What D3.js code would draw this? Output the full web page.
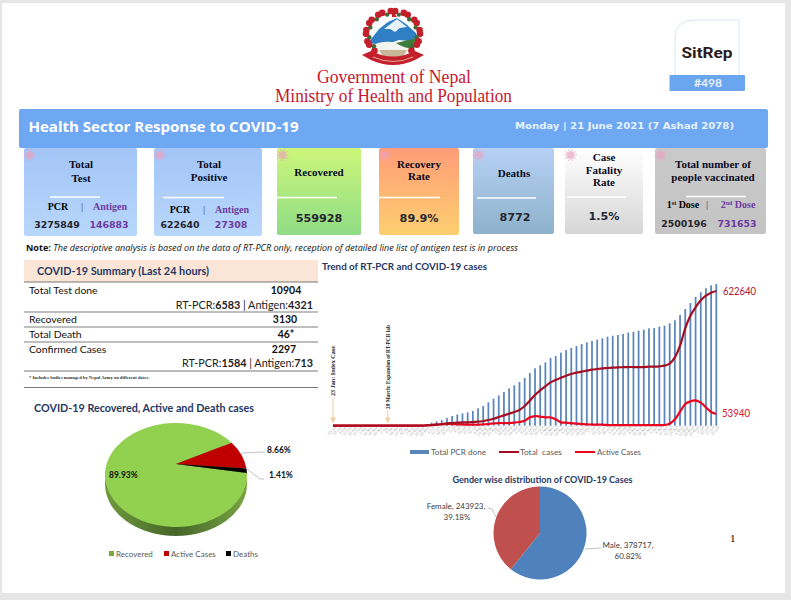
<!DOCTYPE html>
<html>
<head>
<meta charset="utf-8">
<script src="https://cdnjs.cloudflare.com/ajax/libs/d3/7.8.5/d3.min.js"></script>
<style>
  html, body { margin: 0; padding: 0; background: #e6e6e6; overflow: hidden; }
  svg { display: block; }
</style>
</head>
<body>
<svg id="page" width="791" height="600"></svg>
<script>
// weekly tick labels, Jan 2020 to Jun 2021
const weeks = ["23-Jan","30-Jan","6-Feb","13-Feb","20-Feb","27-Feb","5-Mar","12-Mar","19-Mar","26-Mar","2-Apr","9-Apr","16-Apr","23-Apr","30-Apr","7-May","14-May","21-May","28-May","4-Jun","11-Jun","18-Jun","25-Jun","2-Jul","9-Jul","16-Jul","23-Jul","30-Jul","6-Aug","13-Aug","20-Aug","27-Aug","3-Sep","10-Sep","17-Sep","24-Sep","1-Oct","8-Oct","15-Oct","22-Oct","29-Oct","5-Nov","12-Nov","19-Nov","26-Nov","3-Dec","10-Dec","17-Dec","24-Dec","31-Dec","7-Jan","14-Jan","21-Jan","28-Jan","4-Feb","11-Feb","18-Feb","25-Feb","4-Mar","11-Mar","18-Mar","25-Mar","1-Apr","8-Apr","15-Apr","22-Apr","29-Apr","6-May","13-May","20-May","27-May","3-Jun","10-Jun","17-Jun","21-Jun"];
const totalPcr = [0,0,0,0,0,0,0,0,0,0,0,0,0,0,0,0,0,0,31000,69000,100000,131000,177000,224000,262000,285000,308000,339000,401000,455000,540000,624000,701000,779000,863000,933000,1010000,1102000,1218000,1326000,1395000,1465000,1565000,1611000,1688000,1750000,1796000,1842000,1888000,1927000,1958000,1989000,2020000,2058000,2081000,2097000,2120000,2151000,2166000,2197000,2220000,2251000,2258000,2289000,2312000,2366000,2436000,2559000,2698000,2837000,2975000,3083000,3176000,3245000,3275849];
const totalCases = [1,1,1,1,1,1,1,1,1,1,1,1,1,1,1,1,1,1,1500,3100,4600,7700,10800,12300,13900,15400,15400,17000,18500,21600,26200,32400,40100,47800,55500,63200,72400,90900,115600,141800,163300,181800,200300,211100,221900,231200,238900,245000,249600,254300,258900,262000,265100,266600,268100,269700,270400,271200,271200,271200,271200,272800,272800,274300,277400,286600,315900,369800,450000,508500,547100,579400,601000,614900,622640];
const activeCases = [1,1,1,1,1,1,1,1,1,1,1,1,1,1,1,1,1,1,1500,3100,4600,6200,7700,7700,6200,6200,4600,4600,4600,6200,7700,10800,12300,12300,12300,13900,17000,23100,38500,44700,41600,38500,38500,29300,15400,13900,12300,9200,7700,6200,5400,4600,4600,3100,3100,3100,3100,3100,3100,3100,3100,3100,3100,3100,3100,9200,29300,64700,100200,112500,117100,106300,84800,63200,53940];

const summaryRows = ["Total Test done", "Recovered", "Total Death", "Confirmed Cases"];
const summaryValues = ["10904", "3130", "46*", "2297"];

const outcomeLabels = ["Recovered", "Active Cases", "Deaths"];
const outcomeShares = [89.93, 8.66, 1.41];
const outcomeColors = ["#92d050", "#c00000", "#000000"];

const genderLabels = ["Male", "Female"];
const genderCounts = [378717, 243923];
const genderShares = ["60.82%", "39.18%"];
const genderColors = ["#4f81bd", "#c0504d"];

const svg = d3.select("#page");
const serif = "'Liberation Serif', serif";
const sans = "Lato, 'Open Sans', sans-serif";
const heavy = "'DejaVu Sans', sans-serif";
const navy = "#1f3864";
const purple = "#6f3aa0";
const defs = svg.append("defs");

function txt(x, y, s, o = {}) {
  const t = (o.g || svg).append("text")
    .attr("x", x).attr("y", y).text(s)
    .attr("font-family", o.font || sans)
    .attr("font-size", o.size || 9)
    .attr("font-weight", o.weight || "normal")
    .attr("font-style", o.italic ? "italic" : "normal")
    .attr("fill", o.fill || "#000")
    .attr("text-anchor", o.anchor || "start");
  if (o.len) t.attr("textLength", o.len).attr("lengthAdjust", "spacingAndGlyphs");
  return t;
}
function rule(x1, x2, y, color, w) {
  svg.append("line").attr("x1", x1).attr("x2", x2).attr("y1", y).attr("y2", y)
    .attr("stroke", color).attr("stroke-width", w);
}

// page sheet
svg.append("rect").attr("x", 2).attr("y", 3).attr("width", 783).attr("height", 590).attr("fill", "#fff");

// ---- header ----
const emblem = svg.append("g").attr("transform", "translate(393,37)");
emblem.append("path").attr("d", "M-25,6 L-14,-8 L-5,-15 L4,-19 L13,-13 L23,-4 L25,5 L6,3 L-8,8 Z").attr("fill", "#2f7fc4");
emblem.append("path").attr("d", "M-9,-8 L4,-18 L14,-10 L7,-9 L2,-5 L-3,-8 Z").attr("fill", "#e8f2fa");
emblem.append("path").attr("d", "M-23,9 Q-5,1 8,8 L24,5 L20,17 L-18,18 Z").attr("fill", "#f2f4ee");
emblem.append("path").attr("d", "M3,6 L24,1 L21,12 Q10,11 3,6 Z").attr("fill", "#3f7d3a");
emblem.append("path").attr("d", "M-14,13 L14,13 L10,20 L-10,20 Z").attr("fill", "#c9b79a");
d3.range(30).forEach(i => {
  const a = Math.PI * (0.74 + i * 1.52 / 29);
  const green = i % 3 === 1;
  emblem.append("circle").attr("cx", (green ? 24 : 27) * Math.cos(a)).attr("cy", -3 + (green ? 20 : 23) * Math.sin(a))
    .attr("r", green ? 2.2 : 3.3).attr("fill", green ? "#3c6b35" : "#c4202c");
});
emblem.append("path").attr("d", "M-1,-27 L-1,-20 L4,-20 L1,-24 L4,-24 Z").attr("fill", "#c4202c");
emblem.append("path").attr("d", "M-31,18 L-22,14 Q0,25 22,14 L31,18 L22,23 Q0,33 -22,23 Z").attr("fill", "#c4202c");
emblem.append("path").attr("d", "M-20,20 Q0,29 20,20").attr("fill", "none").attr("stroke", "#f0c8b0").attr("stroke-width", 0.8);
txt(394, 83, "Government of Nepal", { font: serif, size: 18, fill: "#c8162e", anchor: "middle", len: 154 });
txt(393.5, 101.5, "Ministry of Health and Population", { font: serif, size: 18, fill: "#c8162e", anchor: "middle", len: 237 });

svg.append("path").attr("d", "M675,75 L675,38 Q675,20 695,20 L739,20 L739,75").attr("fill", "#fff").attr("stroke", "#d5e6ee");
txt(707, 57.5, "SitRep", { font: "Roboto, sans-serif", size: 15, weight: "bold", fill: "#2a1a20", anchor: "middle", len: 51 });
svg.append("rect").attr("x", 669.5).attr("y", 75).attr("width", 75.5).attr("height", 16).attr("rx", 1).attr("fill", "#6aa6f0");
txt(708, 87, "#498", { font: sans, size: 12, weight: "bold", fill: "#e8f0fa", anchor: "middle" });

// ---- banner ----
svg.append("rect").attr("x", 19).attr("y", 109).attr("width", 749).attr("height", 39).attr("rx", 2).attr("fill", "#6fa8f2");
txt(28.5, 132, "Health Sector Response to COVID-19", { font: "'Open Sans', sans-serif", size: 14.5, weight: "bold", fill: "#fff", len: 270 });
txt(515, 129, "Monday | 21 June 2021 (7 Ashad 2078)", { font: heavy, size: 9, weight: "bold", fill: "#e6f2ff", len: 219 });

// ---- stat cards ----
const cardBoxes = [[24, 137, 236, "#a3c5f7", "#b8d7fc"], [154, 262, 236, "#a3c5f7", "#b8d7fc"], [277, 361, 235, "#cdf67a", "#8fdc86"], [379, 459, 235, "#ff9c78", "#fdcf70"], [473, 554, 234, "#b6d1f6", "#8eb2cb"], [565, 643, 234, "#ffffff", "#d6d6d6"], [655, 766, 234, "#c9c9c9", "#c4c4c4"]];
const sepLines = [[50, 100, 197], [163, 224, 197.5], [277, 337, 197.5], [379, 440, 197.5], [477, 536, 198], [567, 626, 197], [686, 746, 196.5]];
cardBoxes.forEach((c, i) => {
  const g = defs.append("linearGradient").attr("id", "card" + i).attr("x1", 0).attr("y1", 0).attr("x2", 0).attr("y2", 1);
  g.append("stop").attr("offset", 0).attr("stop-color", c[3]);
  g.append("stop").attr("offset", 1).attr("stop-color", c[4]);
  svg.append("rect").attr("x", c[0]).attr("y", 148).attr("width", c[1] - c[0]).attr("height", c[2] - 148).attr("rx", 2).attr("fill", `url(#card${i})`);
  // little virus mark in the corner
  const v = svg.append("g").attr("transform", `translate(${c[0] + 5.5},155)`).attr("opacity", 0.7);
  v.append("circle").attr("r", 3.6).attr("fill", "#eda3c0");
  d3.range(10).forEach(k => {
    const a = k * Math.PI / 5;
    v.append("line").attr("x2", 6.2 * Math.cos(a)).attr("y2", 6.2 * Math.sin(a)).attr("stroke", "#eda3c0").attr("stroke-width", 1.1);
  });
  const s = sepLines[i];
  rule(s[0], s[1], s[2], "#fff", 1.4);
});

const head = { font: serif, size: 11, weight: "bold", anchor: "middle", fill: "#0a0a1e" };
const num = { font: heavy, size: 9.4, weight: "bold", anchor: "middle", fill: "#26262e" };
const numP = { ...num, fill: purple };
const big = { ...num, size: 11.2 };
const sub = { font: serif, size: 10, weight: "bold", anchor: "middle" };
const subP = { ...sub, fill: purple };
const bar = { font: serif, size: 10, weight: "bold", anchor: "middle", fill: "#5b6c7c" };

txt(81, 168, "Total", head); txt(81, 182, "Test", head);
txt(58, 210, "PCR", sub); txt(82, 210, "|", bar); txt(110, 210, "Antigen", subP);
txt(57, 228, "3275849", num); txt(109, 228, "146883", numP);

txt(209, 168, "Total", head); txt(209, 181, "Positive", head);
txt(180, 213, "PCR", sub); txt(204, 213, "|", bar); txt(232, 213, "Antigen", subP);
txt(180, 228, "622640", num); txt(231, 228, "27308", numP);

txt(319, 176, "Recovered", head); txt(319, 222, "559928", big);
txt(419, 168, "Recovery", head); txt(419, 180, "Rate", head); txt(419, 222, "89.9%", big);
txt(514, 177, "Deaths", head); txt(515, 221, "8772", big);
txt(604, 161, "Case", head); txt(604, 174, "Fatality", head); txt(604, 186, "Rate", head); txt(604, 220, "1.5%", big);

txt(713, 168, "Total number of", head); txt(713, 181, "people vaccinated", head);
const dose1 = txt(683, 208, "1", sub);
dose1.append("tspan").attr("dy", -3).attr("font-size", 6).text("st");
dose1.append("tspan").attr("dy", 3).text(" Dose");
txt(707, 208, "|", bar);
const dose2 = txt(738, 208, "2", subP);
dose2.append("tspan").attr("dy", -3).attr("font-size", 6).text("nd");
dose2.append("tspan").attr("dy", 3).text(" Dose");
txt(684, 227, "2500196", num); txt(737, 227, "731653", numP);

const note = txt(26, 250.5, "Note:", { font: "'Open Sans', sans-serif", size: 8.2, weight: "bold", fill: "#111", len: 492 });
note.append("tspan").attr("font-weight", "normal").attr("font-style", "italic")
  .text(" The descriptive analysis is based on the data of RT-PCR only, reception of detailed line list of antigen test is in process");

// ---- 24 hour summary ----
svg.append("rect").attr("x", 24).attr("y", 260).attr("width", 294).attr("height", 22).attr("fill", "#fbe5d6");
txt(37, 275, "COVID-19 Summary (Last 24 hours)", { size: 11, weight: "bold", fill: navy, len: 172 });
rule(24, 318, 282, "#555", 0.8);
rule(24, 318, 312, "#aaa", 1.4);
rule(24, 318, 327, "#aaa", 1.4);
rule(24, 318, 342, "#aaa", 1.4);
rule(24, 318, 371, "#555", 0.8);
rule(24, 318, 387.5, "#555", 0.8);
const rowY = [294, 323, 338, 353];
const rowX = [286, 285, 286, 284];
summaryRows.forEach((r, i) => {
  txt(29, rowY[i], r, { size: 10.4, fill: "#111" });
  txt(rowX[i], rowY[i], summaryValues[i], { size: 10.5, weight: "bold", anchor: "middle", fill: "#111" });
});
function split(y, a, b) {
  const t = txt(313, y, "RT-PCR:", { size: 10.8, anchor: "end", fill: "#222" });
  t.append("tspan").attr("font-weight", "bold").text(a);
  t.append("tspan").text(" | Antigen:");
  t.append("tspan").attr("font-weight", "bold").text(b);
}
split(309, "6583", "4321");
split(367, "1584", "713");
txt(29, 378.5, "* Includes bodies managed by Nepal Army on different dates.", { font: serif, size: 4.6, weight: "bold", fill: "#333" });

// ---- outcome pie (tilted) ----
txt(34, 412, "COVID-19 Recovered, Active and Death cases", { size: 10.5, weight: "bold", fill: navy, len: 220 });
const pcx = 176, pcy = 475, prx = 71, pry = 52, depth = 9;
const rimGrad = defs.append("linearGradient").attr("id", "rim").attr("x1", 0).attr("x2", 1).attr("y1", 0).attr("y2", 0);
rimGrad.append("stop").attr("offset", 0).attr("stop-color", "#6f9a3c");
rimGrad.append("stop").attr("offset", 0.5).attr("stop-color", "#45662a");
rimGrad.append("stop").attr("offset", 1).attr("stop-color", "#79a443");
svg.append("ellipse").attr("cx", pcx).attr("cy", pcy + depth).attr("rx", prx).attr("ry", pry).attr("fill", "url(#rim)");
const outcomeArcs = d3.pie().sort(null).startAngle(87.8 * Math.PI / 180).endAngle((87.8 + 360) * Math.PI / 180)(outcomeShares);
const rimPt = a => [pcx + prx * Math.sin(a), pcy - pry * Math.cos(a)];
outcomeArcs.forEach((d, i) => {
  const p0 = rimPt(d.startAngle), p1 = rimPt(d.endAngle);
  const large = d.endAngle - d.startAngle > Math.PI ? 1 : 0;
  // excel leaves the apex a bit above the middle of the ellipse
  svg.append("path")
    .attr("d", `M${pcx},${pcy - 11} L${p0[0]},${p0[1]} A${prx},${pry} 0 ${large} 1 ${p1[0]},${p1[1]} Z`)
    .attr("fill", outcomeColors[i]);
});
const pieLabel = { size: 8.5, weight: "bold", fill: "#111" };
txt(109, 478, outcomeShares[0].toFixed(2) + "%", pieLabel);
txt(267, 453, outcomeShares[1].toFixed(2) + "%", pieLabel);
txt(269, 478, outcomeShares[2].toFixed(2) + "%", pieLabel);
const leader = d3.line();
svg.append("path").attr("d", leader([[242, 453], [265, 452]])).attr("fill", "none").attr("stroke", "#a6a6a6").attr("stroke-width", 0.7);
svg.append("path").attr("d", leader([[247, 469], [260, 479], [264, 479]])).attr("fill", "none").attr("stroke", "#a6a6a6").attr("stroke-width", 0.7);
const legX = [109, 164, 226];
outcomeLabels.forEach((l, i) => {
  svg.append("rect").attr("x", legX[i]).attr("y", 551).attr("width", 5).attr("height", 5).attr("fill", outcomeColors[i] === "#92d050" ? "#7aa83f" : outcomeColors[i]);
  txt(legX[i] + 7, 557, l, { size: 8, fill: "#595959" });
});

// ---- trend chart ----
txt(322, 270, "Trend of RT-PCR and COVID-19 cases", { size: 9.5, weight: "bold", fill: navy, len: 165 });
const x = d3.scaleBand().domain(weeks).range([330.4, 718.9]).paddingInner(0.66).paddingOuter(0.33);
const yBars = d3.scaleLinear().domain([0, 3275849]).range([425.7, 284]);
const yLines = d3.scaleLinear().domain([0, 655000]).range([425.7, 284]);

const xAxis = svg.append("g").attr("transform", "translate(0,426)")
  .call(d3.axisBottom(x).tickSize(0).tickPadding(2));
xAxis.select(".domain").attr("stroke", "#d9d9d9").attr("stroke-width", 0.5);
xAxis.selectAll("text").attr("font-size", 3.5).attr("font-family", sans).attr("fill", "#a8a8a8")
  .attr("text-anchor", "end").attr("dx", "0.3em").attr("dy", "0.5em").attr("transform", "rotate(-45)");

svg.append("g").selectAll("rect").data(totalPcr).join("rect")
  .attr("x", (d, i) => x(weeks[i])).attr("width", x.bandwidth())
  .attr("y", d => yBars(d)).attr("height", d => yBars(0) - yBars(d))
  .attr("fill", "#5b86bb");

const xMid = (d, i) => x(weeks[i]) + x.bandwidth() / 2;
const trend = d3.line().x(xMid).y(d => yLines(d)).curve(d3.curveCatmullRom.alpha(0.5));
svg.append("path").datum(activeCases).attr("d", trend).attr("fill", "none").attr("stroke", "#e8061f").attr("stroke-width", 2.2);
svg.append("path").datum(totalCases).attr("d", trend).attr("fill", "none").attr("stroke", "#a50e20").attr("stroke-width", 2.2);

// event markers
const arrowColor = "#f3cfa4";
[[weeks[0], 398, "23 Jan: Index Case", 396, 50, 0], [weeks[11], 410, "29 March: Expansion of RT-PCR lab", 409, 84, 2.2]].forEach(m => {
  const ax = x(m[0]) + x.bandwidth() / 2 - m[5];
  svg.append("line").attr("x1", ax).attr("x2", ax).attr("y1", m[1]).attr("y2", 420).attr("stroke", arrowColor).attr("stroke-width", 1);
  svg.append("path").attr("d", `M${ax - 2.8},417.5 L${ax + 2.8},417.5 L${ax},423.5 Z`).attr("fill", arrowColor);
  svg.append("text").attr("transform", `translate(${ax + 2},${m[3]}) rotate(-90)`)
    .text(m[2]).attr("font-family", serif).attr("font-size", 6.4).attr("font-weight", "bold").attr("fill", "#222")
    .attr("textLength", m[4]).attr("lengthAdjust", "spacingAndGlyphs");
});

txt(723, 295, totalCases[74], { size: 10.5, fill: "#b5122b", len: 33 });
txt(722, 417, activeCases[74], { size: 10.5, fill: "#e3132a", len: 28 });

svg.append("rect").attr("x", 410).attr("y", 450).attr("width", 19).attr("height", 4).attr("fill", "#5b86bb");
txt(431, 455, "Total PCR done", { size: 8, fill: "#595959", len: 55 });
rule(499, 519, 452, "#a50e20", 2);
txt(520, 455, "Total  cases", { size: 8, fill: "#595959", len: 42 }).attr("xml:space", "preserve");
rule(575, 595, 452, "#e8061f", 2);
txt(597, 455, "Active Cases", { size: 8, fill: "#595959", len: 44 });

// ---- gender pie ----
txt(542.5, 483, "Gender wise distribution of COVID-19 Cases", { size: 8.5, weight: "bold", fill: navy, anchor: "middle", len: 180 });
const genderArc = d3.arc().innerRadius(0).outerRadius(46.5);
svg.append("g").attr("transform", "translate(540,533)")
  .selectAll("path").data(d3.pie().sort(null)(genderCounts)).join("path")
  .attr("d", genderArc).attr("fill", (d, i) => genderColors[i]);
const gl = { size: 8, fill: "#404040", anchor: "middle" };
txt(628, 548, `${genderLabels[0]}, ${genderCounts[0]},`, gl);
txt(628, 559, genderShares[0], gl);
txt(456, 509, `${genderLabels[1]}, ${genderCounts[1]},`, gl);
txt(457, 520, genderShares[1], gl);
svg.append("path").attr("d", leader([[585, 549], [601, 548]])).attr("fill", "none").attr("stroke", "#a6a6a6").attr("stroke-width", 0.7);
svg.append("path").attr("d", leader([[488, 508], [492, 509], [496, 517]])).attr("fill", "none").attr("stroke", "#a6a6a6").attr("stroke-width", 0.7);

txt(730, 542, "1", { font: serif, size: 11 });
</script>
</body>
</html>
